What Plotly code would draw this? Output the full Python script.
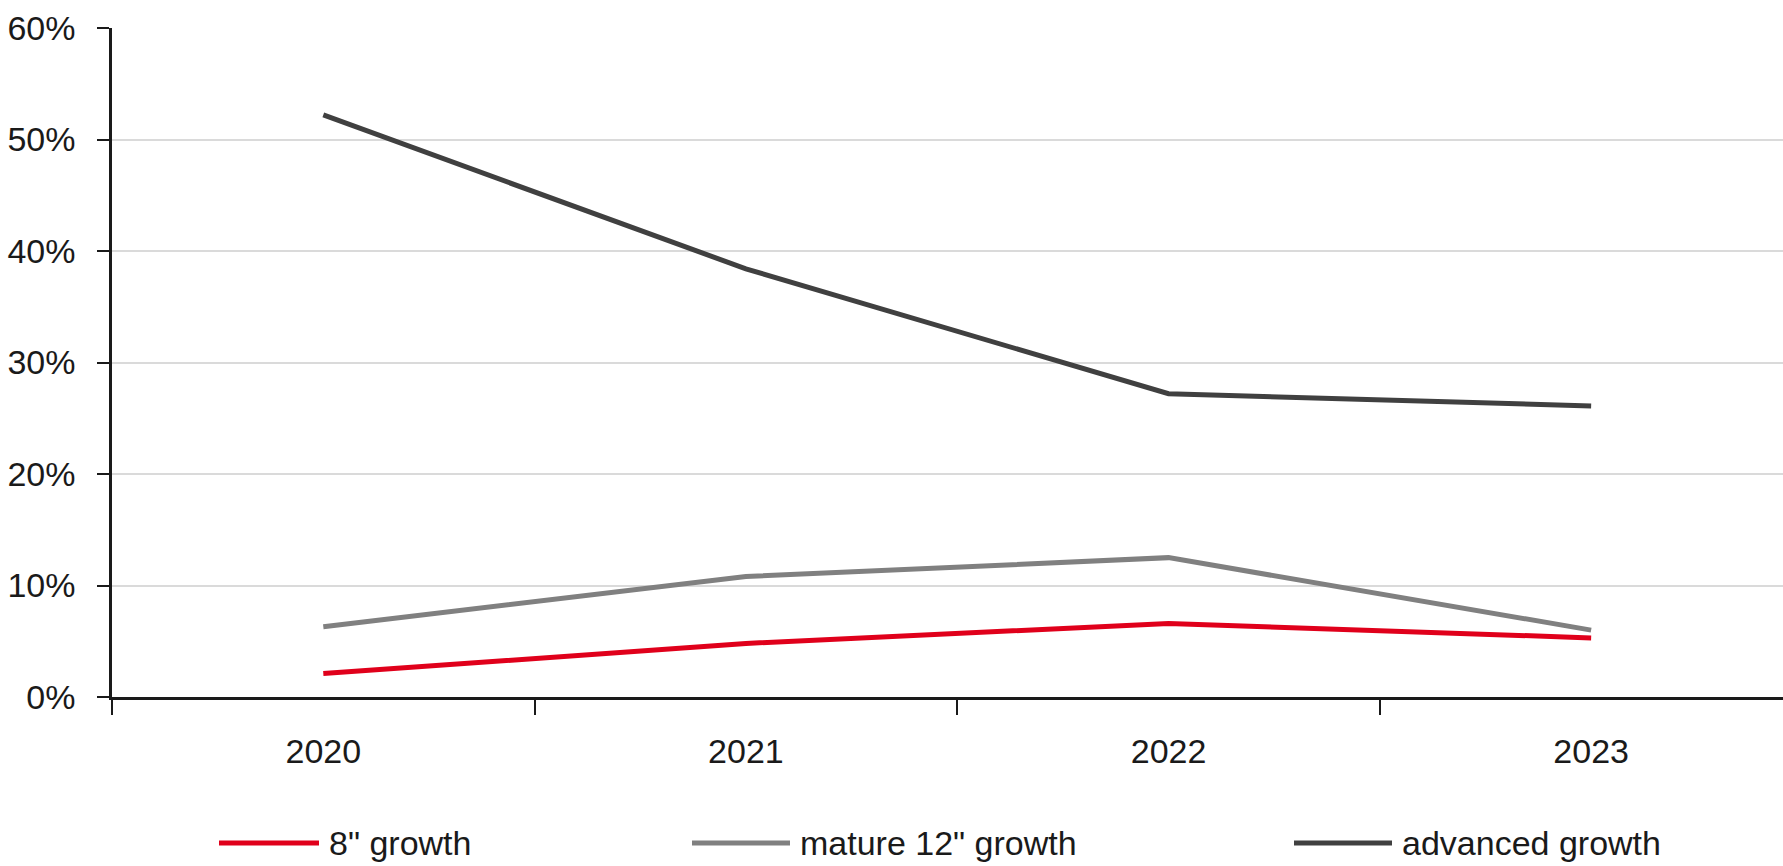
import plotly.graph_objects as go

# Yearly growth rates (fractions) by wafer segment
years = ["2020", "2021", "2022", "2023"]
growth_8in = [0.021, 0.048, 0.066, 0.053]
growth_mature_12in = [0.063, 0.108, 0.125, 0.060]
growth_advanced = [0.522, 0.384, 0.272, 0.261]

series_names = ['8" growth', 'mature 12" growth', 'advanced growth']
series_colors = ["#E0001B", "#808080", "#404040"]
series_values = [growth_8in, growth_mature_12in, growth_advanced]

y_tick_vals = [0, 0.1, 0.2, 0.3, 0.4, 0.5, 0.6]

W, H = 1783, 866
M_L, M_R, M_T, M_B = 112, 0, 28, 169
FONT = "Liberation Sans Narrow, Arial Narrow, Liberation Sans, Arial, sans-serif"
FONT_SIZE = 34
TEXT_COLOR = "#1a1a1a"

fig = go.Figure()
for name, color, vals in zip(series_names, series_colors, series_values):
    fig.add_trace(go.Scatter(
        x=years, y=vals, name=name, mode="lines",
        line=dict(color=color, width=5),
        showlegend=False,
    ))

plot_w = W - M_L - M_R
plot_h = H - M_T - M_B


def px_to_paper(px, py):
    return (px - M_L) / plot_w, (H - M_B - py) / plot_h


# Legend row below the axis: key line followed by its label
legend_items = [(219, 319, 327), (692, 790, 798), (1294, 1392, 1400)]
legend_y = 843
for (x0, x1, xt), name, color in zip(legend_items, series_names, series_colors):
    px0, py = px_to_paper(x0, legend_y)
    px1, _ = px_to_paper(x1, legend_y)
    fig.add_shape(type="line", xref="paper", yref="paper",
                  x0=px0, x1=px1, y0=py, y1=py,
                  line=dict(color=color, width=5))
    tx, _ = px_to_paper(xt, legend_y)
    fig.add_annotation(xref="paper", yref="paper", x=tx, y=py,
                       xanchor="left", yanchor="middle", showarrow=False,
                       text=name, font=dict(family=FONT, size=FONT_SIZE, color=TEXT_COLOR))

fig.update_layout(
    width=W, height=H,
    margin=dict(l=M_L, r=M_R, t=M_T, b=M_B, pad=0, autoexpand=False),
    paper_bgcolor="white", plot_bgcolor="white",
    font=dict(family=FONT, size=FONT_SIZE, color=TEXT_COLOR),
    showlegend=False,
)

fig.update_xaxes(
    type="category", range=[-0.5, 3.454], automargin=False,
    tickson="boundaries", ticks="outside", ticklen=15, tickwidth=2, tickcolor=TEXT_COLOR,
    showline=True, linecolor=TEXT_COLOR, linewidth=2.5,
    showgrid=False, zeroline=False,
    ticklabelstandoff=22,
    tickfont=dict(family=FONT, size=FONT_SIZE, color=TEXT_COLOR),
)

fig.update_yaxes(
    range=[0, 0.6], tickvals=y_tick_vals, tickformat=".0%", automargin=False,
    ticks="outside", ticklen=12, tickwidth=2, tickcolor=TEXT_COLOR,
    showline=True, linecolor=TEXT_COLOR, linewidth=2.5,
    showgrid=True, gridcolor="#DADADA", gridwidth=1.5,
    zeroline=False,
    ticklabelstandoff=15,
    tickfont=dict(family=FONT, size=FONT_SIZE, color=TEXT_COLOR),
)

fig.write_html("out.html")
